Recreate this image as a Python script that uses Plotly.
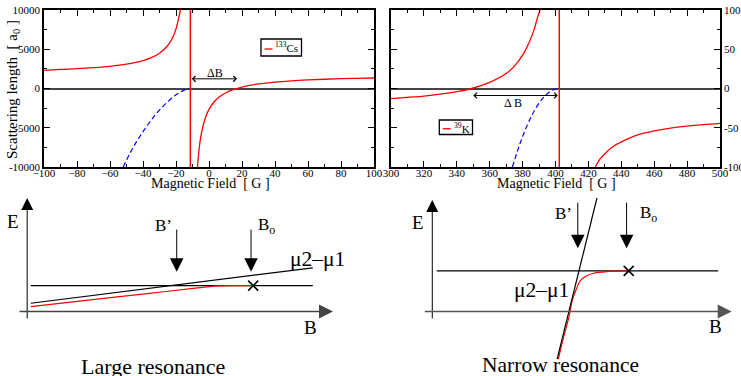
import plotly.graph_objects as go

# ---------------- data: top-left (133Cs) ----------------
cs_B_left = [-100, -90, -80, -70, -60, -50, -40, -35, -30, -25, -22, -20, -18, -17.3]
cs_a_left = [2320, 2440, 2530, 2660, 2830, 3100, 3550, 3930, 4500, 5480, 6500, 7600, 9300, 10000]
cs_B_right = [-7.0, -6, -5, -4, -2, 0, 3, 6, 10, 15, 20, 30, 40, 50, 60, 70, 80, 90, 100]
cs_a_right = [-10000, -7700, -6200, -5100, -3620, -2660, -1720, -1110, -570, -120, 190, 580, 820, 980, 1090, 1180, 1250, 1300, 1340]
cs_bound_B = [-52, -48, -44, -40, -36, -32, -28, -24, -20, -16, -13, -11.3]
cs_bound_a = [-10000, -8300, -6800, -5500, -4300, -3200, -2300, -1500, -800, -300, -60, 0]
cs_B0 = -11.3
cs_deltaB = [-11.3, 17.0]
cs_deltaB_level = 1230

# ---------------- data: top-right (39K) ----------------
k_B_left = [300, 310, 320, 330, 340, 349, 360, 370, 375, 380, 384, 387, 389, 390.6]
k_a_left = [-1300, -1130, -960, -720, -400, 0, 780, 1900, 2850, 4250, 5900, 7500, 9000, 10000]
k_B_right = [424.2, 427, 430, 435, 440, 450, 460, 470, 480, 490, 500]
k_a_right = [-10000, -9000, -8300, -7400, -6800, -5900, -5400, -5050, -4800, -4600, -4430]
k_bound_B = [373.8, 377, 380, 383, 386, 389, 392, 395, 398, 400.5, 402.3]
k_bound_a = [-10000, -7880, -6120, -4590, -3270, -2180, -1310, -660, -230, -40, 0]
k_B0 = 402.3
k_deltaB = [350.0, 402.3]
k_deltaB_level = -890

# tick labels
cs_xticks = list(range(-100, 101, 20))
k_xticks = list(range(300, 501, 20))
a_ticks = [-10000, -5000, 0, 5000, 10000]
a_ticklabels_left = ["-10000", "-5000", "0", "5000", "10000"]
a_ticklabels_right = ["-100", "-50", "0", "50", "100"]

# ---------------- schematic data (arbitrary units) ----------------
large_open_u = [0.12, 9.34]
large_open_E = [0.91, 0.91]
large_closed_u = [0.12, 9.34]
large_closed_E = [0.29, 1.54]
large_dressed_u = [0.12, 2.0, 4.0, 5.5, 5.9, 6.3, 6.8, 7.39]
large_dressed_E = [0.17, 0.40, 0.64, 0.82, 0.87, 0.90, 0.91, 0.91]
large_cross = [7.39, 0.91]
large_Bprime_u = 4.89
large_B0_u = 7.32
large_arrow_E = [2.94, 1.40]

narrow_open_u = [0.15, 9.55]
narrow_open_E = [1.43, 1.43]
narrow_closed_u = [4.17, 5.50]
narrow_closed_E = [-1.68, 4.00]
narrow_dressed_u = [4.21, 4.36, 4.54, 4.68, 4.80, 4.94, 5.14, 5.36, 5.70, 6.10, 6.54]
narrow_dressed_E = [-1.68, -1.01, -0.30, 0.41, 0.76, 1.08, 1.25, 1.34, 1.39, 1.42, 1.43]
narrow_cross = [6.56, 1.43]
narrow_Bprime_u = 4.86
narrow_B0_u = 6.49
narrow_arrow_E = [3.89, 2.23]

W, H = 741, 376
SERIF = "Liberation Serif"
RED = "#ff0000"
BLUE = "#0000ff"


def px(x, y):
    return x / W, 1 - y / H


fig = go.Figure()

# top-left traces
fig.add_trace(go.Scatter(x=cs_B_left, y=cs_a_left, mode="lines", line=dict(color=RED, width=1.3, shape="spline"), xaxis="x", yaxis="y"))
fig.add_trace(go.Scatter(x=cs_B_right, y=cs_a_right, mode="lines", line=dict(color=RED, width=1.3, shape="spline"), xaxis="x", yaxis="y"))
fig.add_trace(go.Scatter(x=cs_bound_B, y=cs_bound_a, mode="lines", line=dict(color=BLUE, width=1.2, dash="5px,3px", shape="spline"), xaxis="x", yaxis="y"))
fig.add_trace(go.Scatter(x=[cs_B0, cs_B0], y=[a_ticks[0], a_ticks[-1]], mode="lines", line=dict(color=RED, width=1.5), xaxis="x", yaxis="y"))

# top-right traces
fig.add_trace(go.Scatter(x=k_B_left, y=k_a_left, mode="lines", line=dict(color=RED, width=1.3, shape="spline"), xaxis="x2", yaxis="y2"))
fig.add_trace(go.Scatter(x=k_B_right, y=k_a_right, mode="lines", line=dict(color=RED, width=1.3, shape="spline"), xaxis="x2", yaxis="y2"))
fig.add_trace(go.Scatter(x=k_bound_B, y=k_bound_a, mode="lines", line=dict(color=BLUE, width=1.2, dash="5px,3px", shape="spline"), xaxis="x2", yaxis="y2"))
fig.add_trace(go.Scatter(x=[k_B0, k_B0], y=[a_ticks[0], a_ticks[-1]], mode="lines", line=dict(color=RED, width=1.5), xaxis="x2", yaxis="y2"))

# schematic: large resonance
fig.add_trace(go.Scatter(x=large_open_u, y=large_open_E, mode="lines", line=dict(color="black", width=1.2), xaxis="x3", yaxis="y3"))
fig.add_trace(go.Scatter(x=large_closed_u, y=large_closed_E, mode="lines", line=dict(color="black", width=1.2), xaxis="x3", yaxis="y3"))
fig.add_trace(go.Scatter(x=large_dressed_u, y=large_dressed_E, mode="lines", line=dict(color=RED, width=1.2, shape="spline"), xaxis="x3", yaxis="y3"))
fig.add_trace(go.Scatter(x=[large_cross[0]], y=[large_cross[1]], mode="markers", marker=dict(symbol="x-thin", size=10, line=dict(color="black", width=1.6)), xaxis="x3", yaxis="y3"))

# schematic: narrow resonance
fig.add_trace(go.Scatter(x=narrow_open_u, y=narrow_open_E, mode="lines", line=dict(color="black", width=1.2), xaxis="x4", yaxis="y4"))
fig.add_trace(go.Scatter(x=narrow_dressed_u, y=narrow_dressed_E, mode="lines", line=dict(color=RED, width=1.2, shape="spline"), xaxis="x4", yaxis="y4"))
fig.add_trace(go.Scatter(x=narrow_closed_u, y=narrow_closed_E, mode="lines", line=dict(color="black", width=1.2), xaxis="x4", yaxis="y4"))
fig.add_trace(go.Scatter(x=[narrow_cross[0]], y=[narrow_cross[1]], mode="markers", marker=dict(symbol="x-thin", size=10, line=dict(color="black", width=1.6)), xaxis="x4", yaxis="y4"))

tickfont = dict(family=SERIF, size=11, color="black")
axis_common = dict(showline=True, linecolor="black", linewidth=1.5, mirror="ticks", ticks="inside",
                   ticklen=6, tickwidth=1, tickcolor="black", showgrid=False, zeroline=False,
                   tickfont=tickfont, automargin=False)
y_dom = [1 - 167 / H, 1 - 10 / H]

fig.update_layout(
    template="none",
    font=dict(family=SERIF, color="black"),
    width=W, height=H, margin=dict(l=0, r=0, t=0, b=0, pad=0),
    paper_bgcolor="white", plot_bgcolor="rgba(0,0,0,0)", showlegend=False,
    xaxis=dict(domain=[44 / W, 374 / W], range=[-100, 100], tickvals=cs_xticks, anchor="y",
               ticklabelstandoff=-5,
               minor=dict(ticks="inside", ticklen=3, dtick=10, tickcolor="black"), **axis_common),
    yaxis=dict(domain=y_dom, range=[-10000, 10000], tickvals=a_ticks, ticktext=a_ticklabels_left, anchor="x",
               minor=dict(ticks="inside", ticklen=3, dtick=2500, tickcolor="black"),
               **{**axis_common, "zeroline": True}, zerolinecolor="#444", zerolinewidth=1.5),
    xaxis2=dict(domain=[391 / W, 720 / W], range=[300, 500], tickvals=k_xticks, anchor="y2",
                ticklabelstandoff=-5,
                minor=dict(ticks="inside", ticklen=3, dtick=10, tickcolor="black"), **axis_common),
    yaxis2=dict(domain=y_dom, range=[-10000, 10000], tickvals=a_ticks, ticktext=a_ticklabels_right, anchor="x2",
                side="right", minor=dict(ticks="inside", ticklen=3, dtick=2500, tickcolor="black"),
                **{**axis_common, "zeroline": True}, zerolinecolor="#444", zerolinewidth=1.5),
    xaxis3=dict(domain=[18 / W, 333 / W], range=[-0.3, 10], visible=False, anchor="y3", automargin=False),
    yaxis3=dict(domain=[1 - 320 / H, 1 - 198 / H], range=[-0.3, 4.0], visible=False, anchor="x3", automargin=False),
    xaxis4=dict(domain=[423.3 / W, 731.7 / W], range=[-0.3, 10], visible=False, anchor="y4", automargin=False),
    yaxis4=dict(domain=[1 - 359.7 / H, 1 - 198 / H], range=[-1.7, 4.0], visible=False, anchor="x4", automargin=False),
)

ann = []


def text(x, y, s, size, **kw):
    px_, py_ = px(x, y)
    ann.append(dict(x=px_, y=py_, xref="paper", yref="paper", text=s, showarrow=False,
                    font=dict(family=SERIF, size=size, color="black"), xanchor="center", yanchor="middle", **kw))


def arrow(xr, yr, tip, tail, head=2, size=2.4, width=1.0, color="black", both=False):
    d = dict(x=tip[0], y=tip[1], ax=tail[0], ay=tail[1], xref=xr, yref=yr, axref=xr, ayref=yr,
             text="", showarrow=True, arrowhead=head, arrowsize=size, arrowwidth=width,
             arrowcolor=color, standoff=0, startstandoff=0)
    if both:
        d.update(arrowside="end+start", startarrowhead=head, startarrowsize=size)
    ann.append(d)


# top panel titles / labels
text(210, 184, "Magnetic Field  [ G ]", 14)
text(556, 184, "Magnetic Field  [ G ]", 14)
text(13, 90, "Scattering length  [ a<sub>0</sub> ]", 15, textangle=-90)

# Delta B arrows
arrow("x", "y", (cs_deltaB[1], cs_deltaB_level), (cs_deltaB[0], cs_deltaB_level), head=4, size=1.1, both=True)
arrow("x2", "y2", (k_deltaB[0], k_deltaB_level), (k_deltaB[1], k_deltaB_level), head=4, size=1.1, both=True)
text(214.5, 72.5, "ΔB", 12)
text(512.5, 103.5, "Δ B", 12)

# legend boxes
legend_boxes = [((261, 39), (301.5, 56), "<sup>133</sup>Cs", (286, 47.5)),
                ((439.3, 120), (472.5, 134.5), "<sup>39</sup>K", (462, 127.5))]
shapes = []
for (x0, y0), (x1, y1), label, (tx, ty) in legend_boxes:
    p0, p1 = px(x0, y1), px(x1, y0)
    shapes.append(dict(type="rect", xref="paper", yref="paper", x0=p0[0], y0=p0[1], x1=p1[0], y1=p1[1],
                       line=dict(color="black", width=1.3), fillcolor="white", layer="above"))
    ly = (y0 + y1) / 2 + 1.5
    q0, q1 = px(x0 + 3.5, ly), px(x0 + 11.5, ly)
    shapes.append(dict(type="line", xref="paper", yref="paper", x0=q0[0], y0=q0[1], x1=q1[0], y1=q1[1],
                       line=dict(color=RED, width=1.3), layer="above"))
    text(tx, ty, label, 11)

# schematic axes (arrows)
arrow("x3", "y3", (0, 4.0), (0, -0.3), size=2.4, width=1.0)
arrow("x3", "y3", (10, 0), (-0.3, 0), size=2.0, width=1.4, color="#444")
arrow("x4", "y4", (0, 3.93), (0, -0.3), size=2.4, width=1.0)
arrow("x4", "y4", (10, 0), (-0.3, 0), size=2.0, width=1.4, color="#555")

# B' and Bo arrows
arrow("x3", "y3", (large_Bprime_u, large_arrow_E[1]), (large_Bprime_u, large_arrow_E[0]), size=2.7)
arrow("x3", "y3", (large_B0_u, large_arrow_E[1]), (large_B0_u, large_arrow_E[0]), size=2.7)
arrow("x4", "y4", (narrow_Bprime_u, narrow_arrow_E[1]), (narrow_Bprime_u, narrow_arrow_E[0]), size=2.7)
arrow("x4", "y4", (narrow_B0_u, narrow_arrow_E[1]), (narrow_B0_u, narrow_arrow_E[0]), size=2.7)

# schematic labels
text(13, 221, "E", 19)
text(310, 327, "B", 19)
text(163, 225, "B’", 17)
text(266, 226, "B<sub>o</sub>", 17)
text(317.5, 259, "μ2–μ1", 21.5)
text(153, 366, "Large resonance", 22)

text(417.5, 222, "E", 19)
text(715, 326, "B", 19)
text(563, 213, "B’", 17)
text(648, 214, "B<sub>o</sub>", 17)
text(541, 290, "μ2–μ1", 21.5)
text(560, 365, "Narrow resonance", 21.5)

fig.update_layout(annotations=ann, shapes=shapes)
fig.write_html("out.html")
